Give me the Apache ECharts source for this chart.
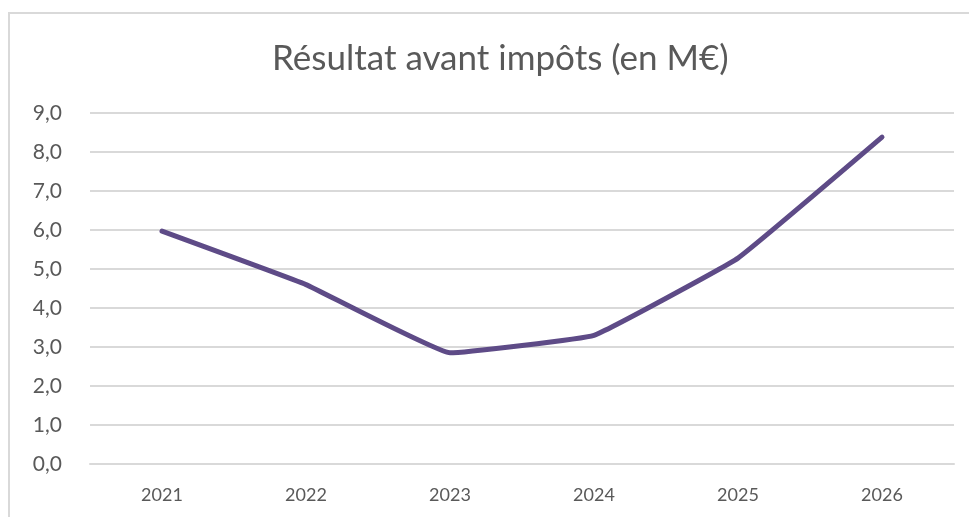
<!DOCTYPE html>
<html><head><meta charset="utf-8">
<script src="https://cdn.jsdelivr.net/npm/echarts@6/dist/echarts.min.js"></script>
<style>html,body{margin:0;padding:0;background:#fff}#c{width:969px;height:517px}</style>
</head><body><div id="c"></div>
<script>
const categories = ['2021','2022','2023','2024','2025','2026'];
const values = [5.97, 4.6, 2.85, 3.3, 5.28, 8.38];
const titleText = 'Résultat avant impôts (en M€)';
const FONT = "Lato,'Open Sans',sans-serif";
const chart = echarts.init(document.getElementById('c'), null, {renderer:'canvas'});
chart.setOption({
  animation:false,
  backgroundColor:'#fff',
  graphic:[{type:'rect',shape:{x:9,y:13,width:980,height:530},style:{fill:'none',stroke:'#d9d9d9',lineWidth:2},silent:true}],
  title:{text:titleText,left:267,top:36,textStyle:{fontFamily:FONT,fontSize:35,fontWeight:'normal',color:'#595959'}},
  grid:{left:90,right:15,top:113,bottom:53},
  xAxis:{type:'category',data:categories,boundaryGap:true,
    axisLine:{show:true,lineStyle:{color:'#d9d9d9',width:2}},axisTick:{show:false},
    axisLabel:{fontFamily:FONT,fontSize:18,color:'#595959',margin:22}},
  yAxis:{type:'value',min:0,max:9,interval:1,
    axisLine:{show:false},axisTick:{show:false},
    splitLine:{lineStyle:{color:'#d9d9d9',width:2}},
    axisLabel:{fontFamily:FONT,fontSize:21,color:'#595959',margin:28,formatter:v=>v.toFixed(1).replace('.',',')}},
  series:[{type:'line',data:values,smooth:0.08,symbol:'none',
    lineStyle:{color:'#5e4b87',width:5,cap:'round',join:'round'}}]
});
</script></body></html>
